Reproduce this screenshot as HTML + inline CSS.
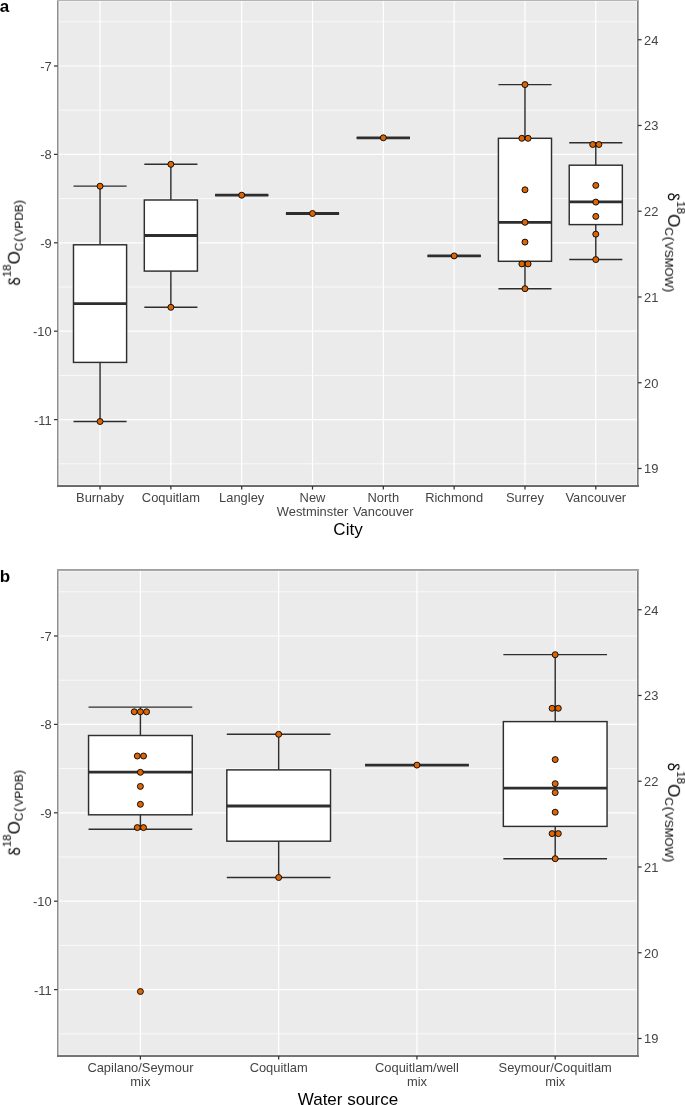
<!DOCTYPE html>
<html><head><meta charset="utf-8"><title>Boxplots</title>
<style>html,body{margin:0;padding:0;background:#fff;width:685px;height:1105px;overflow:hidden;}svg{display:block;}text{font-family:"Liberation Sans",sans-serif;filter:blur(0.3px);}.soft{filter:blur(0.3px);}</style>
</head><body>
<svg width="685" height="1105" viewBox="0 0 685 1105">
<rect width="685" height="1105" fill="#FFFFFF"/>
<rect x="57.5" y="0" width="580.5" height="486" fill="#EBEBEB"/>
<rect x="59" y="1" width="578" height="1" fill="#F2F2F2"/>
<rect x="59" y="484" width="578" height="1" fill="#F2F2F2"/>
<rect x="59" y="1" width="1" height="484" fill="#F2F2F2"/>
<rect x="636" y="1" width="1" height="484" fill="#F2F2F2"/>
<line x1="57.5" x2="638" y1="21.8" y2="21.8" stroke="#FFFFFF" stroke-width="0.75"/>
<line x1="57.5" x2="638" y1="110.2" y2="110.2" stroke="#FFFFFF" stroke-width="0.75"/>
<line x1="57.5" x2="638" y1="198.6" y2="198.6" stroke="#FFFFFF" stroke-width="0.75"/>
<line x1="57.5" x2="638" y1="287" y2="287" stroke="#FFFFFF" stroke-width="0.75"/>
<line x1="57.5" x2="638" y1="375.4" y2="375.4" stroke="#FFFFFF" stroke-width="0.75"/>
<line x1="57.5" x2="638" y1="463.8" y2="463.8" stroke="#FFFFFF" stroke-width="0.75"/>
<line x1="57.5" x2="638" y1="66" y2="66" stroke="#FFFFFF" stroke-width="1.2"/>
<line x1="57.5" x2="638" y1="154.4" y2="154.4" stroke="#FFFFFF" stroke-width="1.2"/>
<line x1="57.5" x2="638" y1="242.8" y2="242.8" stroke="#FFFFFF" stroke-width="1.2"/>
<line x1="57.5" x2="638" y1="331.2" y2="331.2" stroke="#FFFFFF" stroke-width="1.2"/>
<line x1="57.5" x2="638" y1="419.6" y2="419.6" stroke="#FFFFFF" stroke-width="1.2"/>
<line x1="100.05" x2="100.05" y1="0" y2="486" stroke="#FFFFFF" stroke-width="1.2"/>
<line x1="170.87" x2="170.87" y1="0" y2="486" stroke="#FFFFFF" stroke-width="1.2"/>
<line x1="241.69" x2="241.69" y1="0" y2="486" stroke="#FFFFFF" stroke-width="1.2"/>
<line x1="312.51" x2="312.51" y1="0" y2="486" stroke="#FFFFFF" stroke-width="1.2"/>
<line x1="383.33" x2="383.33" y1="0" y2="486" stroke="#FFFFFF" stroke-width="1.2"/>
<line x1="454.15" x2="454.15" y1="0" y2="486" stroke="#FFFFFF" stroke-width="1.2"/>
<line x1="524.97" x2="524.97" y1="0" y2="486" stroke="#FFFFFF" stroke-width="1.2"/>
<line x1="595.79" x2="595.79" y1="0" y2="486" stroke="#FFFFFF" stroke-width="1.2"/>
<line x1="100.05" x2="100.05" y1="186.1" y2="244.8" stroke="#2E2E2E" stroke-width="1.45"/>
<line x1="100.05" x2="100.05" y1="362.4" y2="421.4" stroke="#2E2E2E" stroke-width="1.45"/>
<line x1="73.49" x2="126.61" y1="186.1" y2="186.1" stroke="#2E2E2E" stroke-width="1.45"/>
<line x1="73.49" x2="126.61" y1="421.4" y2="421.4" stroke="#2E2E2E" stroke-width="1.45"/>
<rect x="73.49" y="244.8" width="53.11" height="117.6" fill="#FFFFFF" stroke="#2E2E2E" stroke-width="1.45"/>
<line x1="73.49" x2="126.61" y1="303.7" y2="303.7" stroke="#2E2E2E" stroke-width="2.8"/>
<circle cx="100.05" cy="186.2" r="3.0" fill="#DC6505" stroke="#000" stroke-width="0.9"/>
<circle cx="100.05" cy="421.5" r="3.0" fill="#DC6505" stroke="#000" stroke-width="0.9"/>
<line x1="170.87" x2="170.87" y1="164.2" y2="200" stroke="#2E2E2E" stroke-width="1.45"/>
<line x1="170.87" x2="170.87" y1="271.1" y2="307.2" stroke="#2E2E2E" stroke-width="1.45"/>
<line x1="144.31" x2="197.43" y1="164.2" y2="164.2" stroke="#2E2E2E" stroke-width="1.45"/>
<line x1="144.31" x2="197.43" y1="307.2" y2="307.2" stroke="#2E2E2E" stroke-width="1.45"/>
<rect x="144.31" y="200" width="53.11" height="71.1" fill="#FFFFFF" stroke="#2E2E2E" stroke-width="1.45"/>
<line x1="144.31" x2="197.43" y1="235.5" y2="235.5" stroke="#2E2E2E" stroke-width="2.8"/>
<circle cx="170.87" cy="164.3" r="3.0" fill="#DC6505" stroke="#000" stroke-width="0.9"/>
<circle cx="170.87" cy="307.3" r="3.0" fill="#DC6505" stroke="#000" stroke-width="0.9"/>
<line x1="215.13" x2="268.25" y1="195.2" y2="195.2" stroke="#2E2E2E" stroke-width="1.45"/>
<line x1="215.13" x2="268.25" y1="195.2" y2="195.2" stroke="#2E2E2E" stroke-width="1.45"/>
<line x1="215.13" x2="268.25" y1="195.2" y2="195.2" stroke="#2E2E2E" stroke-width="2.8"/>
<circle cx="241.69" cy="195.2" r="3.0" fill="#DC6505" stroke="#000" stroke-width="0.9"/>
<line x1="285.95" x2="339.07" y1="213.5" y2="213.5" stroke="#2E2E2E" stroke-width="1.45"/>
<line x1="285.95" x2="339.07" y1="213.5" y2="213.5" stroke="#2E2E2E" stroke-width="1.45"/>
<line x1="285.95" x2="339.07" y1="213.5" y2="213.5" stroke="#2E2E2E" stroke-width="2.8"/>
<circle cx="312.51" cy="213.5" r="3.0" fill="#DC6505" stroke="#000" stroke-width="0.9"/>
<line x1="356.77" x2="409.89" y1="137.8" y2="137.8" stroke="#2E2E2E" stroke-width="1.45"/>
<line x1="356.77" x2="409.89" y1="137.8" y2="137.8" stroke="#2E2E2E" stroke-width="1.45"/>
<line x1="356.77" x2="409.89" y1="137.8" y2="137.8" stroke="#2E2E2E" stroke-width="2.8"/>
<circle cx="383.33" cy="137.8" r="3.0" fill="#DC6505" stroke="#000" stroke-width="0.9"/>
<line x1="427.59" x2="480.71" y1="255.9" y2="255.9" stroke="#2E2E2E" stroke-width="1.45"/>
<line x1="427.59" x2="480.71" y1="255.9" y2="255.9" stroke="#2E2E2E" stroke-width="1.45"/>
<line x1="427.59" x2="480.71" y1="255.9" y2="255.9" stroke="#2E2E2E" stroke-width="2.8"/>
<circle cx="454.15" cy="255.9" r="3.0" fill="#DC6505" stroke="#000" stroke-width="0.9"/>
<line x1="524.97" x2="524.97" y1="84.6" y2="138.3" stroke="#2E2E2E" stroke-width="1.45"/>
<line x1="524.97" x2="524.97" y1="261.3" y2="288.7" stroke="#2E2E2E" stroke-width="1.45"/>
<line x1="498.41" x2="551.53" y1="84.6" y2="84.6" stroke="#2E2E2E" stroke-width="1.45"/>
<line x1="498.41" x2="551.53" y1="288.7" y2="288.7" stroke="#2E2E2E" stroke-width="1.45"/>
<rect x="498.41" y="138.3" width="53.11" height="123" fill="#FFFFFF" stroke="#2E2E2E" stroke-width="1.45"/>
<line x1="498.41" x2="551.53" y1="222.3" y2="222.3" stroke="#2E2E2E" stroke-width="2.8"/>
<circle cx="524.97" cy="84.6" r="3.0" fill="#DC6505" stroke="#000" stroke-width="0.9"/>
<circle cx="521.87" cy="138.3" r="3.0" fill="#DC6505" stroke="#000" stroke-width="0.9"/>
<circle cx="528.07" cy="138.3" r="3.0" fill="#DC6505" stroke="#000" stroke-width="0.9"/>
<circle cx="524.97" cy="189.8" r="3.0" fill="#DC6505" stroke="#000" stroke-width="0.9"/>
<circle cx="524.97" cy="222.3" r="3.0" fill="#DC6505" stroke="#000" stroke-width="0.9"/>
<circle cx="524.97" cy="242.1" r="3.0" fill="#DC6505" stroke="#000" stroke-width="0.9"/>
<circle cx="521.87" cy="263.9" r="3.0" fill="#DC6505" stroke="#000" stroke-width="0.9"/>
<circle cx="528.07" cy="263.9" r="3.0" fill="#DC6505" stroke="#000" stroke-width="0.9"/>
<circle cx="524.97" cy="288.7" r="3.0" fill="#DC6505" stroke="#000" stroke-width="0.9"/>
<line x1="595.79" x2="595.79" y1="142.7" y2="165.2" stroke="#2E2E2E" stroke-width="1.45"/>
<line x1="595.79" x2="595.79" y1="224.6" y2="259.5" stroke="#2E2E2E" stroke-width="1.45"/>
<line x1="569.23" x2="622.35" y1="142.7" y2="142.7" stroke="#2E2E2E" stroke-width="1.45"/>
<line x1="569.23" x2="622.35" y1="259.5" y2="259.5" stroke="#2E2E2E" stroke-width="1.45"/>
<rect x="569.23" y="165.2" width="53.11" height="59.4" fill="#FFFFFF" stroke="#2E2E2E" stroke-width="1.45"/>
<line x1="569.23" x2="622.35" y1="201.9" y2="201.9" stroke="#2E2E2E" stroke-width="2.8"/>
<circle cx="592.69" cy="144.5" r="3.0" fill="#DC6505" stroke="#000" stroke-width="0.9"/>
<circle cx="598.89" cy="144.5" r="3.0" fill="#DC6505" stroke="#000" stroke-width="0.9"/>
<circle cx="595.79" cy="185.4" r="3.0" fill="#DC6505" stroke="#000" stroke-width="0.9"/>
<circle cx="595.79" cy="202.1" r="3.0" fill="#DC6505" stroke="#000" stroke-width="0.9"/>
<circle cx="595.79" cy="216.4" r="3.0" fill="#DC6505" stroke="#000" stroke-width="0.9"/>
<circle cx="595.79" cy="234.2" r="3.0" fill="#DC6505" stroke="#000" stroke-width="0.9"/>
<circle cx="595.79" cy="259.6" r="3.0" fill="#DC6505" stroke="#000" stroke-width="0.9"/>
<rect x="57" y="0" width="1" height="487" fill="#909090"/>
<rect x="58" y="0" width="1" height="487" fill="#C0C0C0"/>
<rect x="637" y="0" width="1" height="487" fill="#7F7F7F"/>
<rect x="638" y="0" width="1" height="487" fill="#AAAAAA"/>
<rect x="57" y="0" width="582" height="1" fill="#B5B5B5"/>
<rect x="57" y="485" width="582" height="1" fill="#6E6E6E"/>
<rect x="57" y="486" width="582" height="1" fill="#6A6A6A"/>
<line x1="54" x2="57.5" y1="66" y2="66" stroke="#333333" stroke-width="1.25"/>
<text x="51.6" y="71" text-anchor="end" font-size="12.9" fill="#444444">-7</text>
<line x1="54" x2="57.5" y1="154.4" y2="154.4" stroke="#333333" stroke-width="1.25"/>
<text x="51.6" y="159.4" text-anchor="end" font-size="12.9" fill="#444444">-8</text>
<line x1="54" x2="57.5" y1="242.8" y2="242.8" stroke="#333333" stroke-width="1.25"/>
<text x="51.6" y="247.8" text-anchor="end" font-size="12.9" fill="#444444">-9</text>
<line x1="54" x2="57.5" y1="331.2" y2="331.2" stroke="#333333" stroke-width="1.25"/>
<text x="51.6" y="336.2" text-anchor="end" font-size="12.9" fill="#444444">-10</text>
<line x1="54" x2="57.5" y1="419.6" y2="419.6" stroke="#333333" stroke-width="1.25"/>
<text x="51.6" y="424.6" text-anchor="end" font-size="12.9" fill="#444444">-11</text>
<line x1="638" x2="641.6" y1="39.73" y2="39.73" stroke="#333333" stroke-width="1.25"/>
<text x="644" y="44.63" font-size="12.9" fill="#444444">24</text>
<line x1="638" x2="641.6" y1="125.48" y2="125.48" stroke="#333333" stroke-width="1.25"/>
<text x="644" y="130.38" font-size="12.9" fill="#444444">23</text>
<line x1="638" x2="641.6" y1="211.23" y2="211.23" stroke="#333333" stroke-width="1.25"/>
<text x="644" y="216.13" font-size="12.9" fill="#444444">22</text>
<line x1="638" x2="641.6" y1="296.98" y2="296.98" stroke="#333333" stroke-width="1.25"/>
<text x="644" y="301.88" font-size="12.9" fill="#444444">21</text>
<line x1="638" x2="641.6" y1="382.73" y2="382.73" stroke="#333333" stroke-width="1.25"/>
<text x="644" y="387.63" font-size="12.9" fill="#444444">20</text>
<line x1="638" x2="641.6" y1="468.48" y2="468.48" stroke="#333333" stroke-width="1.25"/>
<text x="644" y="473.38" font-size="12.9" fill="#444444">19</text>
<line x1="100.05" x2="100.05" y1="486" y2="489.6" stroke="#333333" stroke-width="1.25"/>
<text x="100.05" y="501.6" text-anchor="middle" font-size="12.9" fill="#444444">Burnaby</text>
<line x1="170.87" x2="170.87" y1="486" y2="489.6" stroke="#333333" stroke-width="1.25"/>
<text x="170.87" y="501.6" text-anchor="middle" font-size="12.9" fill="#444444">Coquitlam</text>
<line x1="241.69" x2="241.69" y1="486" y2="489.6" stroke="#333333" stroke-width="1.25"/>
<text x="241.69" y="501.6" text-anchor="middle" font-size="12.9" fill="#444444">Langley</text>
<line x1="312.51" x2="312.51" y1="486" y2="489.6" stroke="#333333" stroke-width="1.25"/>
<text x="312.51" y="501.6" text-anchor="middle" font-size="12.9" fill="#444444">New</text>
<text x="312.51" y="516" text-anchor="middle" font-size="12.9" fill="#444444">Westminster</text>
<line x1="383.33" x2="383.33" y1="486" y2="489.6" stroke="#333333" stroke-width="1.25"/>
<text x="383.33" y="501.6" text-anchor="middle" font-size="12.9" fill="#444444">North</text>
<text x="383.33" y="516" text-anchor="middle" font-size="12.9" fill="#444444">Vancouver</text>
<line x1="454.15" x2="454.15" y1="486" y2="489.6" stroke="#333333" stroke-width="1.25"/>
<text x="454.15" y="501.6" text-anchor="middle" font-size="12.9" fill="#444444">Richmond</text>
<line x1="524.97" x2="524.97" y1="486" y2="489.6" stroke="#333333" stroke-width="1.25"/>
<text x="524.97" y="501.6" text-anchor="middle" font-size="12.9" fill="#444444">Surrey</text>
<line x1="595.79" x2="595.79" y1="486" y2="489.6" stroke="#333333" stroke-width="1.25"/>
<text x="595.79" y="501.6" text-anchor="middle" font-size="12.9" fill="#444444">Vancouver</text>
<text x="348" y="534.8" text-anchor="middle" font-size="17.0" fill="#000">City</text>
<text transform="translate(19.8,242.6) rotate(-90)" x="-42.69" font-size="17.0" fill="#000"><tspan fill-opacity="0">&#948;</tspan><tspan font-size="11.6" dx="-1.4" dy="-9.1">18</tspan><tspan dy="9.1">O</tspan><tspan font-size="11.8" dy="3.1">C</tspan><tspan font-size="13.2" dx="0.8">(</tspan><tspan font-size="11.8" dx="0.9">VPDB</tspan><tspan font-size="13.2">)</tspan></text>
<g transform="translate(19.8,242.6) rotate(-90) translate(-42.69,0)" class="soft"><ellipse cx="3.9" cy="-3.2" rx="3.0" ry="2.85" fill="none" stroke="#000" stroke-width="1.15"/><path d="M5.2 -5.5 C3.8 -6.8 1.6 -8.2 1.5 -9.4 C1.4 -10.5 2.4 -11.0 3.4 -11.0 C4.6 -11.0 5.6 -10.6 6.0 -10.0" fill="none" stroke="#000" stroke-width="1.2" stroke-linecap="round"/><circle cx="5.9" cy="-10.0" r="0.8" fill="#000"/></g>
<text transform="translate(668.1,242.6) rotate(90)" x="-49.56" font-size="17.0" fill="#000"><tspan fill-opacity="0">&#948;</tspan><tspan font-size="11.6" dx="-1.4" dy="-9.1">18</tspan><tspan dy="9.1">O</tspan><tspan font-size="11.8" dy="3.1">C</tspan><tspan font-size="13.2" dx="0.8">(</tspan><tspan font-size="11.8" dx="0.9">VSMOW</tspan><tspan font-size="13.2">)</tspan></text>
<g transform="translate(668.1,242.6) rotate(90) translate(-49.56,0)" class="soft"><ellipse cx="3.9" cy="-3.2" rx="3.0" ry="2.85" fill="none" stroke="#000" stroke-width="1.15"/><path d="M5.2 -5.5 C3.8 -6.8 1.6 -8.2 1.5 -9.4 C1.4 -10.5 2.4 -11.0 3.4 -11.0 C4.6 -11.0 5.6 -10.6 6.0 -10.0" fill="none" stroke="#000" stroke-width="1.2" stroke-linecap="round"/><circle cx="5.9" cy="-10.0" r="0.8" fill="#000"/></g>
<text x="-0.3" y="12" font-size="17" font-weight="bold" fill="#000">a</text>
<rect x="57.5" y="570" width="580.5" height="486" fill="#EBEBEB"/>
<rect x="59" y="571" width="578" height="1" fill="#F2F2F2"/>
<rect x="59" y="1054" width="578" height="1" fill="#F2F2F2"/>
<rect x="59" y="571" width="1" height="484" fill="#F2F2F2"/>
<rect x="636" y="571" width="1" height="484" fill="#F2F2F2"/>
<line x1="57.5" x2="638" y1="591.8" y2="591.8" stroke="#FFFFFF" stroke-width="0.75"/>
<line x1="57.5" x2="638" y1="680.2" y2="680.2" stroke="#FFFFFF" stroke-width="0.75"/>
<line x1="57.5" x2="638" y1="768.6" y2="768.6" stroke="#FFFFFF" stroke-width="0.75"/>
<line x1="57.5" x2="638" y1="857" y2="857" stroke="#FFFFFF" stroke-width="0.75"/>
<line x1="57.5" x2="638" y1="945.4" y2="945.4" stroke="#FFFFFF" stroke-width="0.75"/>
<line x1="57.5" x2="638" y1="1033.8" y2="1033.8" stroke="#FFFFFF" stroke-width="0.75"/>
<line x1="57.5" x2="638" y1="636" y2="636" stroke="#FFFFFF" stroke-width="1.2"/>
<line x1="57.5" x2="638" y1="724.4" y2="724.4" stroke="#FFFFFF" stroke-width="1.2"/>
<line x1="57.5" x2="638" y1="812.8" y2="812.8" stroke="#FFFFFF" stroke-width="1.2"/>
<line x1="57.5" x2="638" y1="901.2" y2="901.2" stroke="#FFFFFF" stroke-width="1.2"/>
<line x1="57.5" x2="638" y1="989.6" y2="989.6" stroke="#FFFFFF" stroke-width="1.2"/>
<line x1="140.4" x2="140.4" y1="570" y2="1056" stroke="#FFFFFF" stroke-width="1.2"/>
<line x1="278.67" x2="278.67" y1="570" y2="1056" stroke="#FFFFFF" stroke-width="1.2"/>
<line x1="416.93" x2="416.93" y1="570" y2="1056" stroke="#FFFFFF" stroke-width="1.2"/>
<line x1="555.2" x2="555.2" y1="570" y2="1056" stroke="#FFFFFF" stroke-width="1.2"/>
<line x1="140.4" x2="140.4" y1="707.1" y2="735.5" stroke="#2E2E2E" stroke-width="1.45"/>
<line x1="140.4" x2="140.4" y1="814.8" y2="829.3" stroke="#2E2E2E" stroke-width="1.45"/>
<line x1="88.55" x2="192.25" y1="707.1" y2="707.1" stroke="#2E2E2E" stroke-width="1.45"/>
<line x1="88.55" x2="192.25" y1="829.3" y2="829.3" stroke="#2E2E2E" stroke-width="1.45"/>
<rect x="88.55" y="735.5" width="103.7" height="79.3" fill="#FFFFFF" stroke="#2E2E2E" stroke-width="1.45"/>
<line x1="88.55" x2="192.25" y1="772.1" y2="772.1" stroke="#2E2E2E" stroke-width="2.8"/>
<circle cx="134.25" cy="711.8" r="3.0" fill="#DC6505" stroke="#000" stroke-width="0.9"/>
<circle cx="140.4" cy="711.8" r="3.0" fill="#DC6505" stroke="#000" stroke-width="0.9"/>
<circle cx="146.55" cy="711.8" r="3.0" fill="#DC6505" stroke="#000" stroke-width="0.9"/>
<circle cx="137.3" cy="756" r="3.0" fill="#DC6505" stroke="#000" stroke-width="0.9"/>
<circle cx="143.5" cy="756" r="3.0" fill="#DC6505" stroke="#000" stroke-width="0.9"/>
<circle cx="140.4" cy="772.3" r="3.0" fill="#DC6505" stroke="#000" stroke-width="0.9"/>
<circle cx="140.4" cy="786.4" r="3.0" fill="#DC6505" stroke="#000" stroke-width="0.9"/>
<circle cx="140.4" cy="804.3" r="3.0" fill="#DC6505" stroke="#000" stroke-width="0.9"/>
<circle cx="137.3" cy="827.6" r="3.0" fill="#DC6505" stroke="#000" stroke-width="0.9"/>
<circle cx="143.5" cy="827.6" r="3.0" fill="#DC6505" stroke="#000" stroke-width="0.9"/>
<circle cx="140.4" cy="991.5" r="3.0" fill="#DC6505" stroke="#000" stroke-width="0.9"/>
<line x1="278.67" x2="278.67" y1="734.2" y2="769.9" stroke="#2E2E2E" stroke-width="1.45"/>
<line x1="278.67" x2="278.67" y1="841.2" y2="877.4" stroke="#2E2E2E" stroke-width="1.45"/>
<line x1="226.82" x2="330.52" y1="734.2" y2="734.2" stroke="#2E2E2E" stroke-width="1.45"/>
<line x1="226.82" x2="330.52" y1="877.4" y2="877.4" stroke="#2E2E2E" stroke-width="1.45"/>
<rect x="226.82" y="769.9" width="103.7" height="71.3" fill="#FFFFFF" stroke="#2E2E2E" stroke-width="1.45"/>
<line x1="226.82" x2="330.52" y1="806" y2="806" stroke="#2E2E2E" stroke-width="2.8"/>
<circle cx="278.67" cy="734.3" r="3.0" fill="#DC6505" stroke="#000" stroke-width="0.9"/>
<circle cx="278.67" cy="877.5" r="3.0" fill="#DC6505" stroke="#000" stroke-width="0.9"/>
<line x1="365.08" x2="468.78" y1="765.1" y2="765.1" stroke="#2E2E2E" stroke-width="1.45"/>
<line x1="365.08" x2="468.78" y1="765.1" y2="765.1" stroke="#2E2E2E" stroke-width="1.45"/>
<line x1="365.08" x2="468.78" y1="765.1" y2="765.1" stroke="#2E2E2E" stroke-width="2.8"/>
<circle cx="416.93" cy="765.1" r="3.0" fill="#DC6505" stroke="#000" stroke-width="0.9"/>
<line x1="555.2" x2="555.2" y1="654.6" y2="721.6" stroke="#2E2E2E" stroke-width="1.45"/>
<line x1="555.2" x2="555.2" y1="826.4" y2="858.7" stroke="#2E2E2E" stroke-width="1.45"/>
<line x1="503.35" x2="607.05" y1="654.6" y2="654.6" stroke="#2E2E2E" stroke-width="1.45"/>
<line x1="503.35" x2="607.05" y1="858.7" y2="858.7" stroke="#2E2E2E" stroke-width="1.45"/>
<rect x="503.35" y="721.6" width="103.7" height="104.8" fill="#FFFFFF" stroke="#2E2E2E" stroke-width="1.45"/>
<line x1="503.35" x2="607.05" y1="788.1" y2="788.1" stroke="#2E2E2E" stroke-width="2.8"/>
<circle cx="555.2" cy="654.7" r="3.0" fill="#DC6505" stroke="#000" stroke-width="0.9"/>
<circle cx="552.1" cy="708.3" r="3.0" fill="#DC6505" stroke="#000" stroke-width="0.9"/>
<circle cx="558.3" cy="708.3" r="3.0" fill="#DC6505" stroke="#000" stroke-width="0.9"/>
<circle cx="555.2" cy="759.6" r="3.0" fill="#DC6505" stroke="#000" stroke-width="0.9"/>
<circle cx="555.2" cy="783.7" r="3.0" fill="#DC6505" stroke="#000" stroke-width="0.9"/>
<circle cx="555.2" cy="792.6" r="3.0" fill="#DC6505" stroke="#000" stroke-width="0.9"/>
<circle cx="555.2" cy="812.2" r="3.0" fill="#DC6505" stroke="#000" stroke-width="0.9"/>
<circle cx="552.1" cy="833.6" r="3.0" fill="#DC6505" stroke="#000" stroke-width="0.9"/>
<circle cx="558.3" cy="833.6" r="3.0" fill="#DC6505" stroke="#000" stroke-width="0.9"/>
<circle cx="555.2" cy="858.7" r="3.0" fill="#DC6505" stroke="#000" stroke-width="0.9"/>
<rect x="57" y="569" width="1" height="488" fill="#909090"/>
<rect x="58" y="569" width="1" height="488" fill="#C0C0C0"/>
<rect x="637" y="569" width="1" height="488" fill="#7F7F7F"/>
<rect x="638" y="569" width="1" height="488" fill="#AAAAAA"/>
<rect x="57" y="569" width="582" height="1" fill="#A0A0A0"/>
<rect x="57" y="570" width="582" height="1" fill="#A8A8A8"/>
<rect x="57" y="1055" width="582" height="1" fill="#767676"/>
<rect x="57" y="1056" width="582" height="1" fill="#747474"/>
<line x1="54" x2="57.5" y1="636" y2="636" stroke="#333333" stroke-width="1.25"/>
<text x="51.6" y="641" text-anchor="end" font-size="12.9" fill="#444444">-7</text>
<line x1="54" x2="57.5" y1="724.4" y2="724.4" stroke="#333333" stroke-width="1.25"/>
<text x="51.6" y="729.4" text-anchor="end" font-size="12.9" fill="#444444">-8</text>
<line x1="54" x2="57.5" y1="812.8" y2="812.8" stroke="#333333" stroke-width="1.25"/>
<text x="51.6" y="817.8" text-anchor="end" font-size="12.9" fill="#444444">-9</text>
<line x1="54" x2="57.5" y1="901.2" y2="901.2" stroke="#333333" stroke-width="1.25"/>
<text x="51.6" y="906.2" text-anchor="end" font-size="12.9" fill="#444444">-10</text>
<line x1="54" x2="57.5" y1="989.6" y2="989.6" stroke="#333333" stroke-width="1.25"/>
<text x="51.6" y="994.6" text-anchor="end" font-size="12.9" fill="#444444">-11</text>
<line x1="638" x2="641.6" y1="609.73" y2="609.73" stroke="#333333" stroke-width="1.25"/>
<text x="644" y="614.63" font-size="12.9" fill="#444444">24</text>
<line x1="638" x2="641.6" y1="695.48" y2="695.48" stroke="#333333" stroke-width="1.25"/>
<text x="644" y="700.38" font-size="12.9" fill="#444444">23</text>
<line x1="638" x2="641.6" y1="781.23" y2="781.23" stroke="#333333" stroke-width="1.25"/>
<text x="644" y="786.13" font-size="12.9" fill="#444444">22</text>
<line x1="638" x2="641.6" y1="866.98" y2="866.98" stroke="#333333" stroke-width="1.25"/>
<text x="644" y="871.88" font-size="12.9" fill="#444444">21</text>
<line x1="638" x2="641.6" y1="952.73" y2="952.73" stroke="#333333" stroke-width="1.25"/>
<text x="644" y="957.63" font-size="12.9" fill="#444444">20</text>
<line x1="638" x2="641.6" y1="1038.48" y2="1038.48" stroke="#333333" stroke-width="1.25"/>
<text x="644" y="1043.38" font-size="12.9" fill="#444444">19</text>
<line x1="140.4" x2="140.4" y1="1056" y2="1059.6" stroke="#333333" stroke-width="1.25"/>
<text x="140.4" y="1071.6" text-anchor="middle" font-size="12.9" fill="#444444">Capilano/Seymour</text>
<text x="140.4" y="1086" text-anchor="middle" font-size="12.9" fill="#444444">mix</text>
<line x1="278.67" x2="278.67" y1="1056" y2="1059.6" stroke="#333333" stroke-width="1.25"/>
<text x="278.67" y="1071.6" text-anchor="middle" font-size="12.9" fill="#444444">Coquitlam</text>
<line x1="416.93" x2="416.93" y1="1056" y2="1059.6" stroke="#333333" stroke-width="1.25"/>
<text x="416.93" y="1071.6" text-anchor="middle" font-size="12.9" fill="#444444">Coquitlam/well</text>
<text x="416.93" y="1086" text-anchor="middle" font-size="12.9" fill="#444444">mix</text>
<line x1="555.2" x2="555.2" y1="1056" y2="1059.6" stroke="#333333" stroke-width="1.25"/>
<text x="555.2" y="1071.6" text-anchor="middle" font-size="12.9" fill="#444444">Seymour/Coquitlam</text>
<text x="555.2" y="1086" text-anchor="middle" font-size="12.9" fill="#444444">mix</text>
<text x="348" y="1104.8" text-anchor="middle" font-size="17.0" fill="#000">Water source</text>
<text transform="translate(19.8,812.6) rotate(-90)" x="-42.69" font-size="17.0" fill="#000"><tspan fill-opacity="0">&#948;</tspan><tspan font-size="11.6" dx="-1.4" dy="-9.1">18</tspan><tspan dy="9.1">O</tspan><tspan font-size="11.8" dy="3.1">C</tspan><tspan font-size="13.2" dx="0.8">(</tspan><tspan font-size="11.8" dx="0.9">VPDB</tspan><tspan font-size="13.2">)</tspan></text>
<g transform="translate(19.8,812.6) rotate(-90) translate(-42.69,0)" class="soft"><ellipse cx="3.9" cy="-3.2" rx="3.0" ry="2.85" fill="none" stroke="#000" stroke-width="1.15"/><path d="M5.2 -5.5 C3.8 -6.8 1.6 -8.2 1.5 -9.4 C1.4 -10.5 2.4 -11.0 3.4 -11.0 C4.6 -11.0 5.6 -10.6 6.0 -10.0" fill="none" stroke="#000" stroke-width="1.2" stroke-linecap="round"/><circle cx="5.9" cy="-10.0" r="0.8" fill="#000"/></g>
<text transform="translate(668.1,812.6) rotate(90)" x="-49.56" font-size="17.0" fill="#000"><tspan fill-opacity="0">&#948;</tspan><tspan font-size="11.6" dx="-1.4" dy="-9.1">18</tspan><tspan dy="9.1">O</tspan><tspan font-size="11.8" dy="3.1">C</tspan><tspan font-size="13.2" dx="0.8">(</tspan><tspan font-size="11.8" dx="0.9">VSMOW</tspan><tspan font-size="13.2">)</tspan></text>
<g transform="translate(668.1,812.6) rotate(90) translate(-49.56,0)" class="soft"><ellipse cx="3.9" cy="-3.2" rx="3.0" ry="2.85" fill="none" stroke="#000" stroke-width="1.15"/><path d="M5.2 -5.5 C3.8 -6.8 1.6 -8.2 1.5 -9.4 C1.4 -10.5 2.4 -11.0 3.4 -11.0 C4.6 -11.0 5.6 -10.6 6.0 -10.0" fill="none" stroke="#000" stroke-width="1.2" stroke-linecap="round"/><circle cx="5.9" cy="-10.0" r="0.8" fill="#000"/></g>
<text x="-0.3" y="582" font-size="17" font-weight="bold" fill="#000">b</text>
</svg>
</body></html>
